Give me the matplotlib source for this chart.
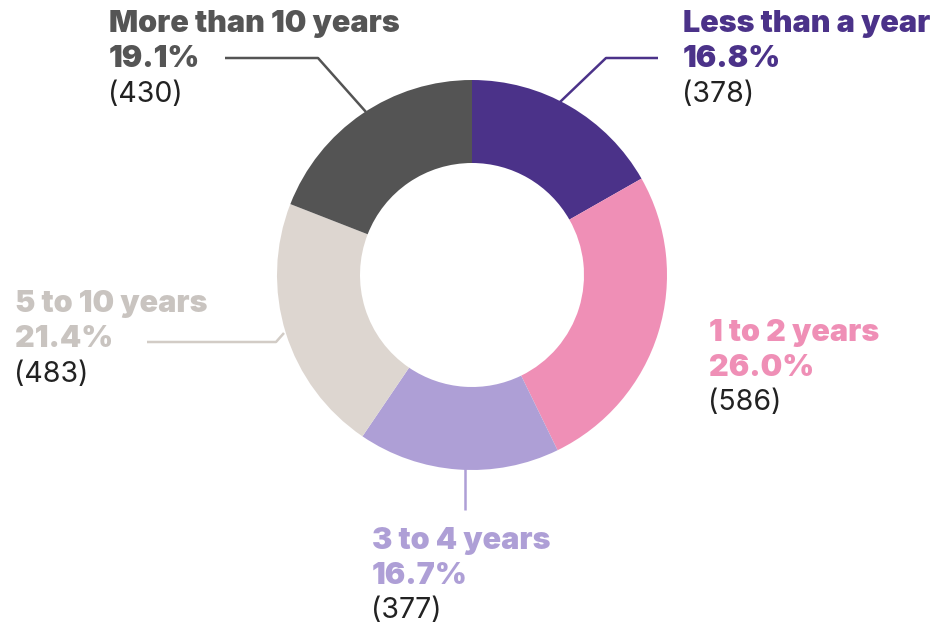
import matplotlib
matplotlib.use("Agg")
import matplotlib.pyplot as plt

categories = ["Less than a year", "1 to 2 years", "3 to 4 years", "5 to 10 years", "More than 10 years"]
percents = [16.8, 26.0, 16.7, 21.4, 19.1]
counts = [378, 586, 377, 483, 430]
colors = ["#4b3289", "#ef8fb6", "#ae9fd6", "#ddd6d0", "#545454"]
text_colors = ["#4b3289", "#ef8fb6", "#ae9fd6", "#c9c4c0", "#555555"]

W, H = 938, 623
fig = plt.figure(figsize=(W / 100, H / 100), dpi=100)
ax = fig.add_axes([0, 0, 1, 1])

cx, cy = 472, H - 275
R, r_in = 195, 112
ax.pie(counts, colors=colors, startangle=90, counterclock=False,
       center=(cx, cy), radius=R, frame=True,
       wedgeprops=dict(width=R - r_in, edgecolor="none"))
ax.set_xlim(0, W)
ax.set_ylim(0, H)
ax.set_aspect("equal")
ax.axis("off")

# label positions (top-left of block, in image pixel coords)
label_pos = {
    "Less than a year": (684, 24),
    "1 to 2 years": (710, 333),
    "3 to 4 years": (373, 541),
    "5 to 10 years": (16, 304),
    "More than 10 years": (110, 24),
}
fam = ["Inter", "DejaVu Sans"]
fs_b = 22
fs_n = 20.5
step = 35
for cat, p, n, tc in zip(categories, percents, counts, text_colors):
    x, y = label_pos[cat]
    ax.text(x - 1, H - y, cat, color=tc, fontsize=fs_b, fontweight="black", family=fam, va="center", ha="left")
    ax.text(x - 1, H - (y + step), f"{p:.1f}%", color=tc, fontsize=fs_b, fontweight="black", family=fam, va="center", ha="left")
    ax.text(x - 2, H - (y + 2 * step), f"({n})", color="#222222", fontsize=fs_n, fontweight="normal", family=fam, va="center", ha="left")

# leader lines (image pixel coords)
leaders = [
    ("#4b3289", [(560, 102), (606, 58), (658, 58)]),
    ("#545454", [(225, 58), (318, 58), (366, 112)]),
    ("#d2ccc6", [(147, 342), (276, 342), (284, 333)]),
    ("#ae9fd6", [(465, 468), (465, 510)]),
]
for c, pts in leaders:
    xs = [p[0] for p in pts]
    ys = [H - p[1] for p in pts]
    ax.plot(xs, ys, color=c, lw=1.8, solid_capstyle="butt")

fig.savefig("out.png", dpi=100, facecolor="white")
